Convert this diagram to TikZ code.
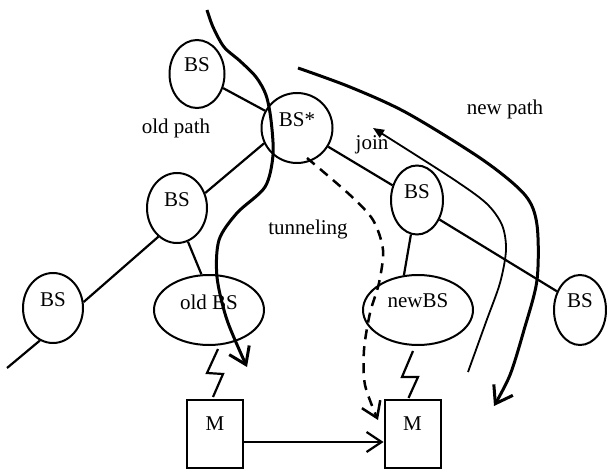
\documentclass[tikz,border=0pt]{standalone}
\usepackage{fontspec}
\setmainfont{Liberation Serif}
\usetikzlibrary{shapes.geometric,arrows.meta}
\begin{document}
\begin{tikzpicture}[x=1pt,y=-1pt,
  font=\fontsize{21}{24}\selectfont,
  station/.style={ellipse, draw, line width=2pt, inner sep=0pt},
  mobile/.style={rectangle, draw, line width=2pt, inner sep=0pt,
                 minimum width=56pt, minimum height=68pt},
  link/.style={line width=2.2pt},
  route/.style={line width=3pt, -{Straight Barb[length=16pt,width=22pt,line width=3pt]}},
  tag/.style={inner sep=0pt, anchor=base}
]
\useasboundingbox (0,0) rectangle (607,470);

% base stations
\node[station, minimum width=55pt, minimum height=68pt,
      label={[yshift=9pt]center:BS}] (bs1) at (197,74) {};
\node[station, minimum width=71pt, minimum height=70pt,
      label={[yshift=8pt]center:BS*}] (bsstar) at (297,128) {};
\node[station, minimum width=60pt, minimum height=70pt,
      label={[yshift=8pt]center:BS}] (bs2) at (177,208) {};
\node[station, minimum width=60pt, minimum height=70pt,
      label={[yshift=8pt]center:BS}] (bs3) at (53,308) {};
\node[station, minimum width=110pt, minimum height=70pt,
      label={[yshift=8pt]center:old BS}] (oldbs) at (209,310) {};
\node[station, minimum width=52pt, minimum height=69pt,
      label={[yshift=8pt]center:BS}] (bs4) at (417,200) {};
\node[station, minimum width=110pt, minimum height=70pt,
      label={[yshift=9pt]center:newBS}] (newbs) at (418,310) {};
\node[station, minimum width=52pt, minimum height=70pt,
      label={[yshift=9pt]center:BS}] (bs5) at (580,310) {};

% mobiles
\node[mobile, label={[yshift=10pt]center:M}] (m1) at (215,434) {};
\node[mobile, label={[yshift=10pt]center:M}] (m2) at (412.5,434) {};

% wired tree
\coordinate (trunk) at (7,368);
\draw[link] (trunk) -- (bs3.248);
\draw[link] (bs3.11) -- (bs2.237);
\draw[link] (bs2.28) -- (bsstar.205);
\draw[link] (bs1) -- (bsstar);
\draw[link] (bsstar) -- (bs4);
\draw[link] (bs4.-41) -- (bs5.141);
\draw[link] (bs2.-72) -- (oldbs.102);
\draw[link] (bs4.-100) -- (newbs.112);

% radio links
\draw[link] ([xshift=9pt,yshift=-3pt]oldbs.south) -- ++(-11,24) -- ++(16,1)
  -- ([xshift=-2pt,yshift=2pt]m1.north);
\draw[link] ([xshift=-5pt,yshift=-5pt]newbs.south) -- ++(-11,26) -- ++(16,0)
  -- ([xshift=-4pt,yshift=1pt]m2.north);

% movement of the mobile
\draw[link, -{Straight Barb[length=15pt,width=20pt,line width=2.2pt]}]
  ([yshift=-8pt]m1.east) -- ([yshift=-8pt]m2.west);

% old path
\draw[route] plot[smooth] coordinates {(207,10) (213,27) (224,47) (240,61)
  (256,77) (266,95) (271,120) (273,155) (265,187) (237,213) (219,240)
  (217,277) (227,320) (247,367)};

% new path
\draw[route] plot[smooth] coordinates {(298,68) (350,87) (407,113) (483,160)
  (525,195) (537,225) (537,280) (524,330) (510,375) (494,406)};

% join
\draw[line width=1.8pt, -{Triangle[length=11pt,width=9pt]}] plot[smooth]
  coordinates {(468,372) (486,322) (500,283) (506,250) (502,225)
  (486,203) (450,177) (373,128)};

% tunneling
\draw[line width=2.5pt, dash pattern=on 10pt off 7pt,
      -{Straight Barb[length=15pt,width=20pt,line width=2.5pt]}] plot[smooth]
  coordinates {(307,158) (350,195) (373,220) (383,250) (379,283) (370,313)
  (364,350) (365,385) (378,420)};

% text labels
\node[tag] (oldpath) at (176,134) {old path};
\node[tag] (join) at (372,150) {join};
\node[tag] (newpath) at (505,115) {new path};
\node[tag] (tunneling) at (308,235) {tunneling};
\end{tikzpicture}
\end{document}
